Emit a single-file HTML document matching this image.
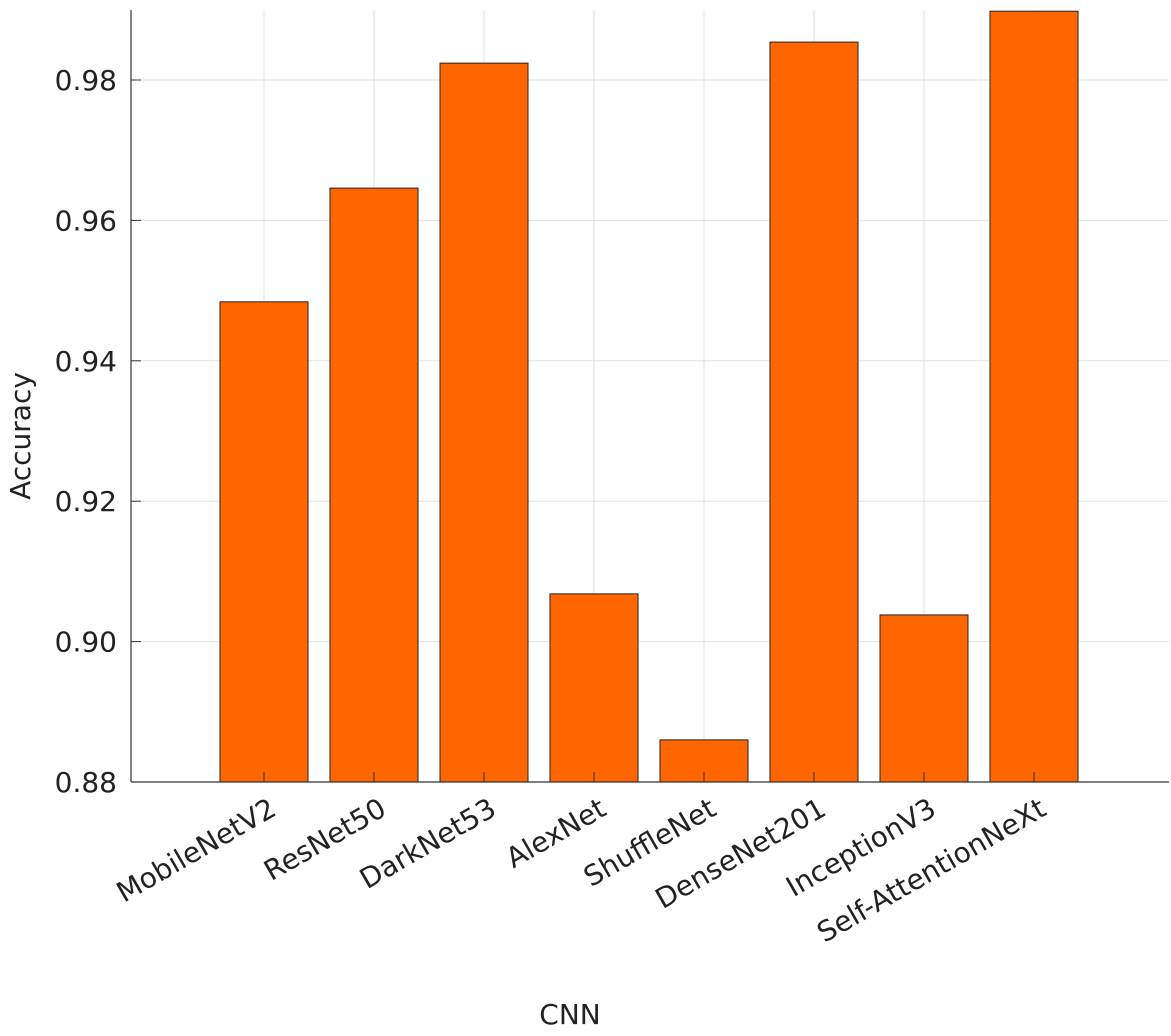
<!DOCTYPE html>
<html><head><meta charset="utf-8"><style>
body{margin:0;background:#fff;}
svg text{font-family:"DejaVu Sans","Liberation Sans",sans-serif;fill:#222;}
</style></head><body>
<svg id="chart" width="1171" height="1031" xmlns="http://www.w3.org/2000/svg">
<g id="grid"></g>
<g id="bars"></g>
<g id="axes"></g>
<text transform="translate(30,436) rotate(-90)" text-anchor="middle" font-size="28">Accuracy</text>
<text x="570" y="1024" text-anchor="middle" font-size="28">CNN</text>
</svg>
<script>
const categories=["MobileNetV2","ResNet50","DarkNet53","AlexNet","ShuffleNet","DenseNet201","InceptionV3","Self-AttentionNeXt"];
const accuracy=[0.9484,0.9646,0.9824,0.9068,0.8860,0.9854,0.9038,0.9898];
const yTicks=[0.88,0.90,0.92,0.94,0.96,0.98];
const yTickLabels=["0.88","0.90","0.92","0.94","0.96","0.98"];
const NS="http://www.w3.org/2000/svg";
const L=131,R=1169,T=10,B=782;
function y(v){return B-(v-0.88)/0.02*140.4;}
function x(i){return 264+110*i;}
function mk(tag,attrs,parent){const e=document.createElementNS(NS,tag);for(const k in attrs)e.setAttribute(k,attrs[k]);parent.appendChild(e);return e;}
const grid=document.getElementById('grid'),bars=document.getElementById('bars'),axes=document.getElementById('axes');
yTicks.forEach((t,i)=>{
 const g=mk('line',{x1:L,x2:R,y1:y(t),y2:y(t),stroke:'#e2e2e2','stroke-width':1},grid);
 
 
 const tk=mk('line',{x1:L,x2:L+10,y1:y(t),y2:y(t),stroke:'#333','stroke-width':1},axes);
 
 
 const tl=mk('text',{x:L-14,y:y(t)+10,'text-anchor':'end','font-size':28},axes);
 tl.textContent=yTickLabels[i];
 
 
});
categories.forEach((c,i)=>{
 const g=mk('line',{x1:x(i),x2:x(i),y1:T,y2:B,stroke:'#e2e2e2','stroke-width':1},grid);
 
 
 const b=mk('rect',{x:x(i)-44,y:y(accuracy[i]),width:88,height:B-y(accuracy[i]),fill:'#ff6600',stroke:'#222','stroke-width':1},bars);
 
 
 const tk=mk('line',{x1:x(i),x2:x(i),y1:B,y2:B-10,stroke:'#333','stroke-width':1},axes);
 
 
 const tl=mk('text',{x:x(i)+14,y:B+32,'text-anchor':'end','font-size':28,transform:`rotate(-30 ${x(i)+14} ${B+32})`},axes);
 tl.textContent=c;
 
 
});
const ya=mk('line',{x1:L,x2:L,y1:T,y2:B,stroke:'#333','stroke-width':1.2},axes);


const xa=mk('line',{x1:L,x2:R,y1:B,y2:B,stroke:'#333','stroke-width':1.2},axes);


</script>
</body></html>
